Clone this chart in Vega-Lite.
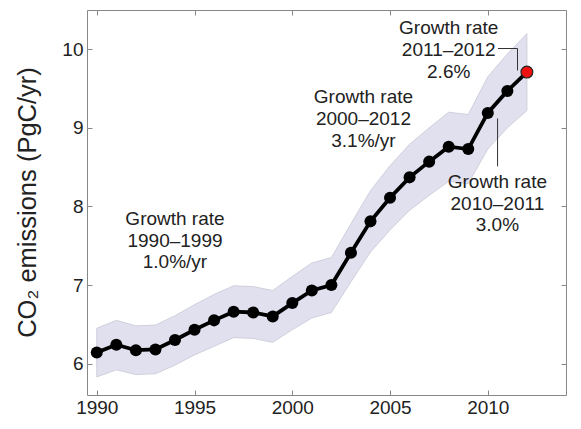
{
  "$schema": "https://vega.github.io/schema/vega-lite/v6.json",
  "width": 479,
  "height": 385,
  "autosize": {"type": "none"},
  "padding": {"left": 87, "top": 10, "right": 15, "bottom": 34},
  "config": {
    "view": {"stroke": "#888888", "strokeWidth": 1},
    "axis": {"grid": false, "domain": false, "tickSize": -5, "tickColor": "#888888", "labelFont": "Liberation Sans", "labelColor": "#222222", "labelFontSize": 19, "titleFont": "Liberation Sans", "titleColor": "#222222"}
  },
  "datasets": {
    "main": [
      {"year": 1990, "v": 6.14, "lo": 5.83, "hi": 6.45},
      {"year": 1991, "v": 6.24, "lo": 5.92, "hi": 6.55},
      {"year": 1992, "v": 6.17, "lo": 5.86, "hi": 6.48},
      {"year": 1993, "v": 6.18, "lo": 5.87, "hi": 6.49},
      {"year": 1994, "v": 6.30, "lo": 5.98, "hi": 6.61},
      {"year": 1995, "v": 6.43, "lo": 6.11, "hi": 6.75},
      {"year": 1996, "v": 6.55, "lo": 6.22, "hi": 6.88},
      {"year": 1997, "v": 6.66, "lo": 6.33, "hi": 6.99},
      {"year": 1998, "v": 6.65, "lo": 6.32, "hi": 6.98},
      {"year": 1999, "v": 6.60, "lo": 6.27, "hi": 6.93},
      {"year": 2000, "v": 6.77, "lo": 6.43, "hi": 7.11},
      {"year": 2001, "v": 6.93, "lo": 6.58, "hi": 7.28},
      {"year": 2002, "v": 7.00, "lo": 6.65, "hi": 7.35},
      {"year": 2003, "v": 7.41, "lo": 7.04, "hi": 7.78},
      {"year": 2004, "v": 7.81, "lo": 7.42, "hi": 8.20},
      {"year": 2005, "v": 8.11, "lo": 7.70, "hi": 8.52},
      {"year": 2006, "v": 8.37, "lo": 7.95, "hi": 8.79},
      {"year": 2007, "v": 8.57, "lo": 8.14, "hi": 9.00},
      {"year": 2008, "v": 8.76, "lo": 8.32, "hi": 9.20},
      {"year": 2009, "v": 8.73, "lo": 8.29, "hi": 9.17},
      {"year": 2010, "v": 9.19, "lo": 8.73, "hi": 9.65},
      {"year": 2011, "v": 9.47, "lo": 9.00, "hi": 9.94},
      {"year": 2012, "v": 9.71, "lo": 9.22, "hi": 10.20}
    ],
    "callouts": [
      {"g": "a", "o": 1, "x": 2010.52, "y": 10.01},
      {"g": "a", "o": 2, "x": 2011.52, "y": 10.01},
      {"g": "a", "o": 3, "x": 2011.52, "y": 9.73},
      {"g": "b", "o": 1, "x": 2010.5, "y": 9.12},
      {"g": "b", "o": 2, "x": 2010.5, "y": 8.51}
    ],
    "labels": [
      {"x": 1994.0, "y": 7.759, "t": "Growth rate"},
      {"x": 1994.0, "y": 7.485, "t": "1990–1999"},
      {"x": 1994.0, "y": 7.211, "t": "1.0%/yr"},
      {"x": 2003.64, "y": 9.311, "t": "Growth rate"},
      {"x": 2003.64, "y": 9.041, "t": "2000–2012"},
      {"x": 2003.64, "y": 8.761, "t": "3.1%/yr"},
      {"x": 2008.0, "y": 10.199, "t": "Growth rate"},
      {"x": 2008.0, "y": 9.912, "t": "2011–2012"},
      {"x": 2008.0, "y": 9.637, "t": "2.6%"},
      {"x": 2010.49, "y": 8.232, "t": "Growth rate"},
      {"x": 2010.49, "y": 7.958, "t": "2010–2011"},
      {"x": 2010.49, "y": 7.683, "t": "3.0%"}
    ]
  },
  "resolve": {"axis": {"x": "independent", "y": "independent"}},
  "layer": [
    {
      "data": {"name": "main"},
      "mark": {"type": "area", "fill": "#e0e0ef", "stroke": "#c8c8d6", "strokeWidth": 0.8},
      "encoding": {
        "x": {"field": "year", "type": "quantitative", "scale": {"domain": [1989.5, 2014], "nice": false, "zero": false},
              "axis": {"orient": "bottom", "values": [1990, 1995, 2000, 2005, 2010], "format": "d", "labelPadding": 8, "title": null}},
        "y": {"field": "lo", "type": "quantitative", "scale": {"domain": [5.6, 10.5], "nice": false, "zero": false},
              "axis": {"orient": "left", "values": [6, 7, 8, 9, 10], "format": "d", "labelPadding": 9, "title": "CO₂ emissions (PgC/yr)", "titleFontSize": 25.5, "titleFontWeight": "normal", "titleAngle": -90, "titleBaseline": "alphabetic", "titleX": -52, "titleY": 192}},
        "y2": {"field": "hi"}
      }
    },
    {
      "data": {"name": "main"},
      "mark": {"type": "line", "color": "#000000", "strokeWidth": 3.8},
      "encoding": {
        "x": {"field": "year", "type": "quantitative", "axis": null},
        "y": {"field": "v", "type": "quantitative", "axis": null}
      }
    },
    {
      "data": {"name": "main"},
      "transform": [{"filter": "datum.year < 2012"}],
      "mark": {"type": "circle", "color": "#000000", "opacity": 1, "size": 145},
      "encoding": {
        "x": {"field": "year", "type": "quantitative", "axis": null},
        "y": {"field": "v", "type": "quantitative", "axis": null}
      }
    },
    {
      "data": {"name": "main"},
      "transform": [{"filter": "datum.year == 2012"}],
      "mark": {"type": "point", "shape": "circle", "filled": true, "fill": "#ee1111", "stroke": "#222222", "strokeWidth": 1.2, "opacity": 1, "size": 140},
      "encoding": {
        "x": {"field": "year", "type": "quantitative", "axis": null},
        "y": {"field": "v", "type": "quantitative", "axis": null}
      }
    },
    {
      "data": {"name": "callouts"},
      "mark": {"type": "line", "color": "#333333", "strokeWidth": 1},
      "encoding": {
        "x": {"field": "x", "type": "quantitative",
              "axis": {"orient": "top", "values": [1990, 1995, 2000, 2005, 2010], "labels": false, "title": null}},
        "y": {"field": "y", "type": "quantitative",
              "axis": {"orient": "right", "values": [6, 7, 8, 9, 10], "labels": false, "title": null}},
        "detail": {"field": "g"},
        "order": {"field": "o"}
      }
    },
    {
      "data": {"name": "labels"},
      "mark": {"type": "text", "font": "Liberation Sans", "fontSize": 19, "align": "center", "baseline": "alphabetic", "color": "#222222"},
      "encoding": {
        "x": {"field": "x", "type": "quantitative", "axis": null},
        "y": {"field": "y", "type": "quantitative", "axis": null},
        "text": {"field": "t"}
      }
    }
  ]
}
